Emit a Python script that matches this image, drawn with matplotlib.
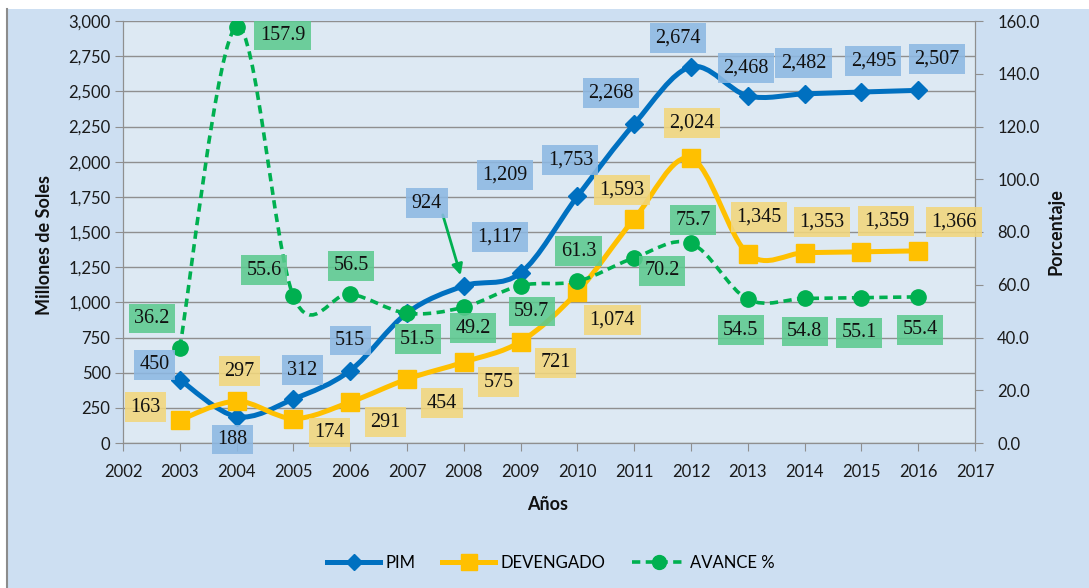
import numpy as np
import matplotlib.pyplot as plt
from matplotlib.path import Path
from matplotlib.patches import PathPatch, Rectangle
from matplotlib.lines import Line2D

plt.rcParams['font.family'] = ['Lato', 'DejaVu Sans']

years = list(range(2003, 2017))
pim = [450, 188, 312, 515, 924, 1117, 1209, 1753, 2268, 2674, 2468, 2482, 2495, 2507]
devengado = [163, 297, 174, 291, 454, 575, 721, 1074, 1593, 2024, 1345, 1353, 1359, 1366]
avance = [36.2, 157.9, 55.6, 56.5, 49.2, 51.5, 59.7, 61.3, 70.2, 75.7, 54.5, 54.8, 55.1, 55.4]

# label offsets (pixels) from each point, as placed in the original
pim_off = [(-25, 15), (-4, -23), (9, 29), (0, 30), (20, 110), (36, 49), (-16, 98),
           (-7, 36), (-23, 31), (-13, 29), (-2, 28), (-1, 31), (12, 31), (19, 31)]
dev_off = [(-34, 13), (3, 30), (36, -14), (35, -20), (35, -24), (35, -20), (35, -21),
           (35, -28), (-12, 29), (1, 35), (11, 37), (17, 31), (25, 31), (36, 29)]
av_off = [(-28, 29), (46, -9), (-29, 26), (1, 28), (66, -15), (-46, -32), (11, -26),
          (1, 30), (28, -13), (2, 23), (-7, -31), (0, -33), (-2, -35), (2, -33)]

C_PIM = '#0070c0'
C_DEV = '#ffc000'
C_AV = '#00b050'


def smooth_path(xs, ys):
    # excel-like smoothed line: bezier segments, catmull-rom control points
    p = np.column_stack([xs, ys]).astype(float)
    n = len(p)
    verts = [p[0]]
    codes = [Path.MOVETO]
    for i in range(n - 1):
        p0 = p[i - 1] if i > 0 else p[i]
        p3 = p[i + 2] if i + 2 < n else p[i + 1]
        c1 = p[i] + (p[i + 1] - p0) / 6.0
        c2 = p[i + 1] - (p3 - p[i]) / 6.0
        verts += [c1, c2, p[i + 1]]
        codes += [Path.CURVE4] * 3
    return Path(verts, codes)


fig = plt.figure(figsize=(10.89, 5.88), dpi=100)
fig.patch.set_facecolor('white')
fig.patches.append(Rectangle((8 / 1089, 0), 1 - 8 / 1089, 1 - 9 / 588,
                             transform=fig.transFigure, fc='#cddff2', ec='none', zorder=-10))
fig.lines.append(Line2D([7 / 1089, 7 / 1089], [0, 1 - 9 / 588], transform=fig.transFigure,
                        color='#8c8c8c', lw=1.5))

ax = fig.add_axes([123 / 1089, 1 - 443 / 588, 852 / 1089, 422 / 588])
ax.set_facecolor('#dde9f3')
ax2 = ax.twinx()

ax.set_xlim(2002, 2017)
ax.set_ylim(0, 3000)
ax2.set_ylim(0, 160)
ax.set_xticks(range(2002, 2018))
ax.set_yticks(range(0, 3001, 250))
ax.set_yticklabels([f'{v:,}' for v in range(0, 3001, 250)])
ax2.set_yticks(range(0, 161, 20))
ax2.set_yticklabels([f'{v:.1f}' for v in range(0, 161, 20)])

ax.set_axisbelow(True)
ax.yaxis.grid(True, color='#8f8f8f', lw=1)

for a in (ax, ax2):
    for s in a.spines.values():
        s.set_color('#8f8f8f')
    a.spines['top'].set_visible(False)
ax.tick_params(axis='both', colors='#8f8f8f', labelcolor='#1a1a1a', labelsize=12, length=6)
ax.tick_params(axis='y', pad=3)
ax.tick_params(axis='x', pad=9)
ax2.tick_params(axis='y', colors='#8f8f8f', labelcolor='#1a1a1a', labelsize=12, length=6, pad=10)

# lines
ax.add_patch(PathPatch(smooth_path(years, pim), fill=False, ec=C_PIM, lw=3.6,
                       capstyle='round', joinstyle='round'))
ax.plot(years, pim, ls='none', marker='D', ms=9, color=C_PIM)
ax.add_patch(PathPatch(smooth_path(years, devengado), fill=False, ec=C_DEV, lw=3.6,
                       capstyle='round', joinstyle='round'))
ax.plot(years, devengado, ls='none', marker='s', ms=13, color=C_DEV)
ax2.add_patch(PathPatch(smooth_path(years, avance), fill=False, ec=C_AV, lw=2.6,
                        ls=(0, (2.3, 1.5)), capstyle='butt'))
ax2.plot(years, avance, ls='none', marker='o', ms=11, color=C_AV)

# data labels
def label(vals, offs, trans, fmt, color):
    for x, v, (dx, dy) in zip(years, vals, offs):
        ax2.annotate(fmt(v), xy=(x, v), xycoords=trans, xytext=(dx, dy),
                     textcoords='offset pixels', ha='center', va='center',
                     family='Liberation Serif', fontsize=14.5, color='#111111',
                     bbox=dict(boxstyle='square,pad=0.27', fc=color, ec='none', alpha=0.88),
                     zorder=5)

label(pim, pim_off, ax.transData, lambda v: f'{v:,}', '#8cb8e2')
label(devengado, dev_off, ax.transData, lambda v: f'{v:,}', '#f2d67c')
label(avance, av_off, ax2.transData, lambda v: f'{v:.1f}', '#5cca8f')

# arrow from the 924 label
ax2.annotate('', xy=(years[5], pim[5]), xycoords=ax.transData, xytext=(-21, 71),
             textcoords='offset pixels',
             arrowprops=dict(arrowstyle='-|>', color=C_AV, lw=2, shrinkA=0, shrinkB=8,
                             mutation_scale=16))

fig.text(44 / 1089, 1 - 245 / 588, 'Millones de Soles', rotation=90, ha='center', va='center',
         fontsize=13, fontweight='bold', color='#111111')
fig.text(1056 / 1089, 1 - 232 / 588, 'Porcentaje', rotation=90, ha='center', va='center',
         fontsize=13, fontweight='bold', color='#111111')
fig.text(548 / 1089, 1 - 505 / 588, 'Años', ha='center', va='center',
         fontsize=13, fontweight='bold', color='#111111')

handles = [
    Line2D([], [], color=C_PIM, lw=3.6, marker='D', ms=8),
    Line2D([], [], color=C_DEV, lw=3.6, marker='s', ms=11),
    Line2D([], [], color=C_AV, lw=2.6, ls=(0, (2.3, 1.5)), marker='o', ms=10),
]
fig.legend(handles, ['PIM', 'DEVENGADO', 'AVANCE %'], loc='center',
           bbox_to_anchor=(551 / 1089, 1 - 563 / 588), ncol=3, frameon=False,
           fontsize=12, handlelength=3.2, handletextpad=0.3, columnspacing=1.6)

fig.savefig('out.png', dpi=100)
